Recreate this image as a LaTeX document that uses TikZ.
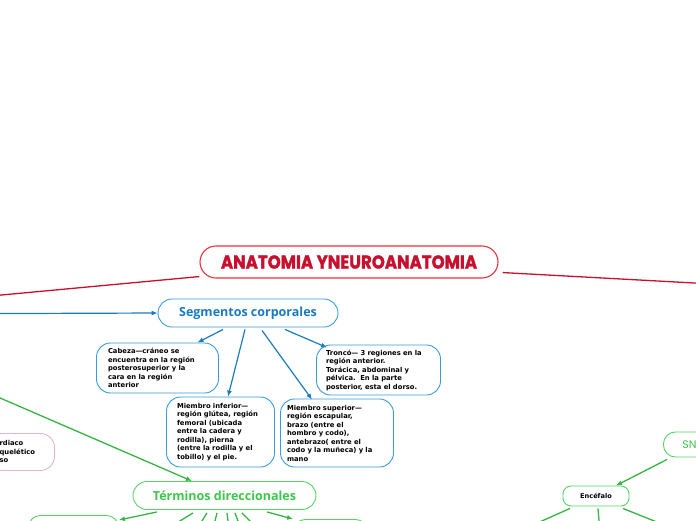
\documentclass[tikz,border=0pt]{standalone}
\usepackage{fontspec}
\setmainfont{DejaVu Sans}
\newfontfamily\titlefont{Poppins}[BoldFeatures={FakeBold=1.6}]
\newfontfamily\headfont{Open Sans}
\usetikzlibrary{arrows.meta, positioning}

\definecolor{mapred}{HTML}{C8102E}
\definecolor{mapredline}{HTML}{E8343C}
\definecolor{mapblue}{HTML}{1A7ABF}
\definecolor{mapblueline}{HTML}{3A9BDC}
\definecolor{mapgreen}{HTML}{3CC84A}
\definecolor{mapgreenline}{HTML}{55D465}
\definecolor{mappink}{HTML}{DAB6DD}

\tikzset{
  titlebox/.style={
    draw=mapredline, line width=1.1pt, rounded corners=16pt, fill=white,
    minimum width=298pt, minimum height=32pt, text=mapred,
    font=\titlefont\bfseries\fontsize{16.2}{16}\selectfont
  },
  topicbox/.style={
    draw=#1line, line width=0.9pt, rounded corners=14pt, fill=white,
    minimum height=28pt, text=#1,
    font=\headfont\bfseries\fontsize{12.5}{12.5}\selectfont
  },
  notebox/.style={
    draw=mapblueline, line width=0.9pt, rounded corners=14pt, fill=white,
    align=left, inner ysep=4pt,
    font=\bfseries\fontsize{6.8}{8.5}\selectfont
  },
  smallbox/.style={
    draw=mapgreenline, line width=0.9pt, rounded corners=8pt, fill=white,
    font=\bfseries\fontsize{6.6}{8}\selectfont
  },
  redlink/.style={draw=mapred, line width=1.3pt},
  bluelink/.style={
    draw=mapblue, line width=1.2pt, -{Latex[length=6pt,width=5pt]}
  },
  greenlink/.style={draw=mapgreen!90!black, line width=1.3pt},
  greenarrow/.style={greenlink, -{Latex[length=6pt,width=5pt]}},
}

\begin{document}
\begin{tikzpicture}[x=1pt, y=-1pt]
  \useasboundingbox (0,0) rectangle (696,520);

  % ── Central topic ──────────────────────────────────────────────
  \node[titlebox] (title) at (349, 262)
    {\scalebox{1.025}[1.15]{ANATOMIA YNEUROANATOMIA}};

  \coordinate (redL) at (-20, 297);
  \coordinate (redR) at (720, 284.4);
  \draw[redlink] ([yshift=2pt]title.south west) -- (redL);
  \draw[redlink] ([xshift=4pt, yshift=6pt]title.south east) -- (redR);

  % ── Segmentos corporales ───────────────────────────────────────
  \node[topicbox=mapblue, minimum width=180pt] (seg) at (248, 313)
    {Segmentos corporales};

  \coordinate (blueL) at (-10, 313.6);
  \draw[bluelink] (blueL) -- (seg.west);

  \node[notebox, minimum width=121pt, minimum height=50pt,
        text width=99pt, inner xsep=11.5pt] (cabeza) at (157.5, 368)
    {Cabeza—cráneo se\\
     encuentra en la región\\
     posterosuperior y la\\
     cara en la región\\
     anterior};
  \node[notebox, minimum width=123pt, minimum height=50pt,
        text width=105pt, inner xsep=9.5pt] (tronco) at (378.5, 370)
    {Troncó— 3 regiones en la\\
     región anterior.\\
     Torácica, abdominal y\\
     pélvica.\ \ En la parte\\
     posterior, esta el dorso.};
  \node[notebox, minimum width=107pt, minimum height=70pt,
        text width=87pt, inner xsep=10.5pt] (minf) at (220.5, 432)
    {Miembro inferior—\\
     región glútea, región\\
     femoral (ubicada\\
     entre la cadera y\\
     rodilla), pierna\\
     (entre la rodilla y el\\
     tobillo) y el pie.};
  \node[notebox, minimum width=112pt, minimum height=68pt,
        text width=100pt, inner xsep=6.5pt] (msup) at (337, 433)
    {Miembro superior—\\
     región escapular,\\
     brazo (entre el\\
     hombro y codo),\\
     antebrazo( entre el\\
     codo y la muñeca) y la\\
     mano};

  \draw[bluelink] ([xshift=-25pt, yshift=-2pt]seg.south)
    -- ([xshift=40pt]cabeza.north);
  \draw[bluelink] ([xshift=-3pt, yshift=-2pt]seg.south)
    -- ([xshift=7.5pt]minf.north);
  \draw[bluelink] ([xshift=14pt, yshift=-3pt]seg.south)
    -- ([xshift=-25pt, yshift=-1pt]msup.north);
  \draw[bluelink] ([xshift=37pt, yshift=-2pt]seg.south)
    -- ([xshift=11pt, yshift=-3pt]tronco.north west);

  % ── Sistemas (cut at the left edge) ────────────────────────────
  \node[notebox, draw=mappink, anchor=north east, minimum height=37pt,
        text width=44pt, inner xsep=11pt] (sist) at (55, 433)
    {rdiaco\\quelético\\so};

  % ── Términos direccionales ─────────────────────────────────────
  \node[topicbox=mapgreen, minimum width=183pt] (term) at (224.5, 495.5)
    {Términos direccionales};

  \coordinate (greenL) at (-10, 393.6);
  \draw[greenarrow] (greenL) -- ([xshift=-32.5pt]term.north);

  \node[smallbox, rounded corners=12pt, anchor=north west,
        minimum width=90pt, minimum height=30pt] (lchild) at (28, 515) {};
  \node[smallbox, rounded corners=12pt, anchor=north west,
        minimum width=74pt, minimum height=30pt] (rchild) at (293, 519) {};

  \draw[greenarrow] ([xshift=-67.5pt, yshift=-2pt]term.south)
    -- ([yshift=-5pt]lchild.north east);
  \draw[greenarrow] ([xshift=42.5pt, yshift=-2pt]term.south)
    -- (rchild.north west);

  \foreach \sx/\ex [count=\i] in
      {-31.5/-57.5, -17.5/-27.5, -7.5/-11.5, 2.5/4.5, 10.5/16.5, 17.5/33.5} {
    \coordinate (ray\i) at ([xshift=\ex pt, yshift=-19pt]term.south);
    \draw[greenlink] ([xshift=\sx pt, yshift=-3pt]term.south) -- (ray\i);
  }

  % ── SN / Encéfalo (cut at the right edge) ──────────────────────
  \node[smallbox, rounded corners=12pt, anchor=west, minimum height=25pt,
        inner xsep=19pt, text=mapgreen,
        font=\titlefont\fontsize{11}{11}\selectfont] (sn) at (663, 444.5)
    {SN};
  \node[smallbox, minimum width=66pt, minimum height=20pt] (enc)
    at (596, 496) {Encéfalo};

  \draw[greenarrow] ([xshift=4pt, yshift=-2pt]sn.south west)
    -- ([xshift=20pt]enc.north);

  \foreach \sx/\ex [count=\i] in {-26/-80, 2/4, 27/87} {
    \coordinate (leaf\i) at ([xshift=\ex pt, yshift=-26pt]enc.south);
    \draw[greenlink] ([xshift=\sx pt, yshift=-2pt]enc.south) -- (leaf\i);
  }
\end{tikzpicture}
\end{document}
